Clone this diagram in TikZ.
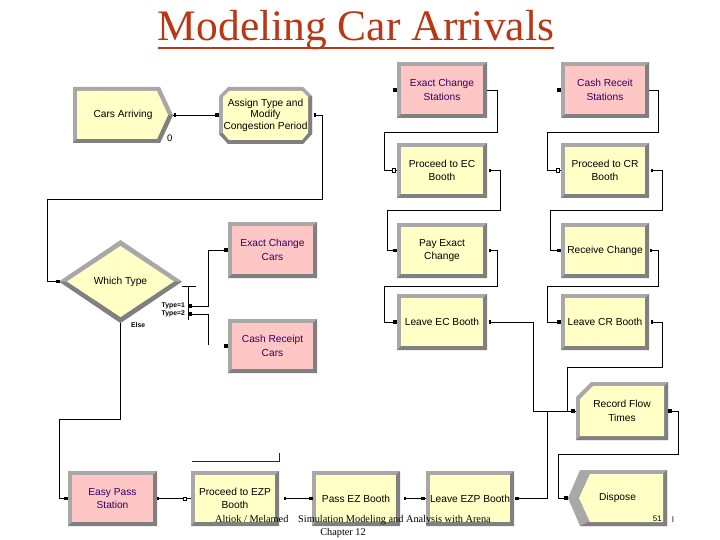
\documentclass[tikz,border=0pt]{standalone}
\usepackage{fontspec}
\setmainfont{Liberation Serif}
\newfontfamily\armfont{Liberation Sans}
\definecolor{ttl}{RGB}{185,55,20}
\definecolor{ylw}{RGB}{255,255,198}
\definecolor{pnk}{RGB}{255,198,198}
\definecolor{bvmid}{RGB}{168,168,168}
\definecolor{bvdark}{RGB}{128,128,128}
\definecolor{ptxt}{RGB}{50,0,100}
\definecolor{ezblue}{RGB}{30,30,120}
\begin{document}
\begin{tikzpicture}[x=1pt,y=-1pt,
  modbox/.style={rectangle, inner sep=0pt, align=center,
    font=\armfont\fontsize{10.2}{13.5}\selectfont, fill=#1,
    path picture={
      \fill[bvmid] (path picture bounding box.south west) rectangle (path picture bounding box.north east);
      \fill[bvdark] (path picture bounding box.south west) -- (path picture bounding box.south east)
        -- (path picture bounding box.north east) -- ([shift={(-4pt,-4pt)}]path picture bounding box.north east)
        -- ([shift={(-4pt,4pt)}]path picture bounding box.south east) -- ([shift={(4pt,4pt)}]path picture bounding box.south west) -- cycle;
      \fill[#1] ([shift={(4pt,4pt)}]path picture bounding box.south west) rectangle ([shift={(-4pt,-4pt)}]path picture bounding box.north east);
    }},
  ptext/.style={text=ptxt},
  shapetext/.style={rectangle, inner sep=0pt, align=center, font=\armfont\fontsize{10.2}{13.5}\selectfont},
  conn/.style={draw=black, line width=0.85pt},
  lbl/.style={inner sep=0pt, font=\armfont\bfseries\fontsize{6.8}{8}\selectfont},
  inmark/.pic={\fill[black] (-1.8pt,-1.8pt) rectangle (1.8pt,1.8pt);},
  openmark/.pic={\draw[black, fill=white, line width=0.6pt] (-1.7pt,-1.7pt) rectangle (1.7pt,1.7pt);},
  outmark/.pic={\fill[black] (-0.9pt,-1.6pt) rectangle (0.9pt,1.6pt);}
]
\useasboundingbox (0,0) rectangle (720,540);
\fill[white] (0,0) rectangle (720,540);

% title
\node[font=\fontsize{43.5}{44}\selectfont, text=ttl, inner sep=0pt, anchor=base] (title) at (356,41) {Modeling Car Arrivals};
\draw[ttl, line width=2pt] ([yshift=-7pt]title.base west) -- ([yshift=-7pt]title.base east);

% special shapes
\fill[bvmid] (73,87) -- (160,87) -- (173,115) -- (160,143) -- (73,143) -- cycle;
\fill[bvdark] (73,143) -- (160,143) -- (173,115) -- (168,115) -- (157,139) -- (77,139) -- cycle;
\fill[ylw] (77,91) -- (157,91) -- (168,115) -- (157,139) -- (77,139) -- cycle;
\node[shapetext, minimum width=100pt, minimum height=56pt] (arr) at (123,115) {Cars Arriving};

\fill[bvmid] (228,87) -- (303,87) -- (312,96) -- (312,134) -- (303,144) -- (228,144) -- (219,134) -- (219,96) -- cycle;
\fill[bvdark] (219,134) -- (228,144) -- (303,144) -- (312,134) -- (312,96) -- (308,97) -- (308,133) -- (302,140) -- (229,140) -- (223,133) -- cycle;
\fill[ylw] (229,91) -- (302,91) -- (308,97) -- (308,133) -- (302,140) -- (229,140) -- (223,133) -- (223,97) -- cycle;
\node[shapetext, font=\armfont\fontsize{10.2}{11.6}\selectfont, minimum width=93pt, minimum height=57pt] (asg) at (265.5,115) {Assign Type and\\Modify\\Congestion Period};

\fill[bvmid] (59,281.5) -- (120.5,240) -- (182,281.5) -- (120.5,323) -- cycle;
\fill[bvdark] (59,281.5) -- (120.5,323) -- (182,281.5) -- (174,281.5) -- (120.5,317) -- (67,281.5) -- cycle;
\fill[ylw] (67,281.5) -- (120.5,246) -- (174,281.5) -- (120.5,317) -- cycle;
\node[shapetext, minimum width=123pt, minimum height=83pt] (dec) at (120.5,281.5) {Which Type};

\fill[bvmid] (591,382) -- (668,382) -- (668,440) -- (576,440) -- (576,397) -- cycle;
\fill[bvdark] (576,440) -- (668,440) -- (668,382) -- (664,386) -- (664,436) -- (580,436) -- cycle;
\fill[ylw] (593,386) -- (664,386) -- (664,436) -- (580,436) -- (580,399) -- cycle;
\node[shapetext, minimum width=92pt, minimum height=58pt] (rft) at (622,411) {Record Flow\\Times};

\fill[bvmid] (580,470) -- (667,470) -- (667,526) -- (580,526) -- (568,498) -- cycle;
\fill[bvdark] (580,526) -- (667,526) -- (667,470) -- (663,474) -- (663,522) -- (588,522) -- cycle;
\fill[ylw] (590,474) -- (663,474) -- (663,522) -- (590,522) -- (579,498) -- cycle;
\node[shapetext, minimum width=99pt, minimum height=56pt] (dsp) at (617.5,498) {Dispose};

% rectangular modules
\node[modbox=pnk, ptext, minimum width=90pt, minimum height=56pt] (ecs) at (442,90) {Exact Change\\Stations};
\node[modbox=pnk, ptext, minimum width=88pt, minimum height=56pt] (crs) at (605,90) {Cash Receit\\Stations};
\node[modbox=ylw, minimum width=90pt, minimum height=55pt] (pec) at (442,170.5) {Proceed to EC\\Booth};
\node[modbox=ylw, minimum width=88pt, minimum height=55pt] (pcr) at (605,170.5) {Proceed to CR\\Booth};
\node[modbox=ylw, minimum width=90pt, minimum height=55pt] (pay) at (442,250.5) {Pay Exact\\Change};
\node[modbox=ylw, minimum width=88pt, minimum height=55pt] (rcv) at (605,250.5) {Receive Change};
\node[modbox=ylw, minimum width=90pt, minimum height=56pt] (lec) at (442,322) {Leave EC Booth};
\node[modbox=ylw, minimum width=88pt, minimum height=56pt] (lcr) at (605,322) {Leave CR Booth};
\node[modbox=pnk, ptext, minimum width=89pt, minimum height=56pt] (ecc) at (272.5,250) {Exact Change\\Cars};
\node[modbox=pnk, ptext, minimum width=89pt, minimum height=54pt] (crc) at (272.5,346) {Cash Receipt\\Cars};
\node[modbox=pnk, ptext, minimum width=89pt, minimum height=55pt] (ezs) at (112.5,498.5) {Easy Pass\\Station};
\node[modbox=ylw, minimum width=88pt, minimum height=55pt] (pez) at (235,498.5) {Proceed to EZP\\Booth};
\node[modbox=ylw, minimum width=88pt, minimum height=55pt] (pas) at (356,498.5) {Pass EZ Booth};
\node[modbox=ylw, minimum width=88pt, minimum height=55pt] (lez) at (470,498.5) {Leave EZP Booth};

% small labels
\node[inner sep=0pt, font=\armfont\fontsize{9.5}{10}\selectfont, anchor=west] (cnt0) at (167,138) {0};
\node[lbl, anchor=east] (t1) at (185,306) {Type=1};
\node[lbl, anchor=east] (t2) at (185,314) {Type=2};
\node[lbl, anchor=west] (els) at (131,325) {Else};
\node[inner sep=0pt, font=\armfont\fontsize{8}{9}\selectfont, anchor=east] (cnt51) at (662,519) {51};
\node[inner sep=0pt, font=\armfont\fontsize{8}{9}\selectfont] (cntl) at (673,520) {l};

% connectors
\draw[conn] (arr.east) -- (asg.west);
\draw[conn] ([xshift=3pt]asg.east) -- ++(7,0) |- (47,199) |- (dec.west);
\draw[conn] ([yshift=-5pt]dec.east) -- ++(14,0);
\draw[conn] (188,286.5) -- (188,320);
\draw[conn] (190,306) -| (208,250) -- (ecc.west);
\draw[conn] (190,314) -| (208,345);
\draw[conn] (dec.south) |- (59,419) |- (ezs.west);

\draw[conn] (ecs.east) -- ++(10,0) |- (384,132) |- (pec.west);
\draw[conn] ([xshift=3pt]pec.east) -- ++(10,0) |- (387,210) |- (pay.west);
\draw[conn] ([xshift=3pt]pay.east) -- ++(7,0) |- (384,286) |- (lec.west);
\draw[conn] ([xshift=3pt]lec.east) -| (533,411) -- (rft.west);

\draw[conn] (crs.east) -- ++(9,0) |- (547,132) |- (pcr.west);
\draw[conn] ([xshift=3pt]pcr.east) -- ++(10,0) |- (550,210) |- (rcv.west);
\draw[conn] ([xshift=2pt]rcv.east) -- ++(7,0) |- (547,286) |- (lcr.west);
\draw[conn] ([xshift=3pt]lcr.east) -- ++(10,0) |- (567,367) |- (rft.west);
\draw[conn] ([xshift=3pt]lez.east) -| (547,411) -- (rft.west);
\draw[conn] ([xshift=2pt]rft.east) -- ++(8,0) |- (558,454) |- (dsp.west);

\draw[conn] ([xshift=1pt]ezs.east) -- (pez.west);
\draw[conn] ([xshift=6pt]pez.east) -- (pas.west);
\draw[conn] ([xshift=5pt]pas.east) -- (lez.west);

\draw[ezblue, line width=0.9pt] ([shift={(1pt,9pt)}]pez.north west) -- ([yshift=9pt]pez.north east) -- ([yshift=18pt]pez.north east);

% markers
\pic at ([xshift=-2pt]asg.west) {inmark};
\pic at ([xshift=2pt]arr.east) {outmark};
\pic at ([xshift=3pt]asg.east) {outmark};
\pic at ([xshift=-1pt]dec.west) {inmark};
\pic at (190,306) {inmark};
\pic at (190,314) {inmark};
\pic at ([xshift=-2pt]ecc.west) {inmark};
\pic at ([xshift=-2pt]crc.west) {inmark};
\pic at ([xshift=-2pt]ecs.west) {inmark};
\pic at ([xshift=-2pt]crs.west) {inmark};
\pic at ([xshift=-3pt]pec.west) {openmark};
\pic at ([xshift=-3pt]pcr.west) {openmark};
\pic at ([xshift=-2pt]pay.west) {inmark};
\pic at ([xshift=-2pt]rcv.west) {inmark};
\pic at ([xshift=-2pt]lec.west) {inmark};
\pic at ([xshift=-2pt]lcr.west) {inmark};
\pic at ([xshift=3pt]pec.east) {outmark};
\pic at ([xshift=3pt]pcr.east) {outmark};
\pic at ([xshift=3pt]pay.east) {outmark};
\pic at ([xshift=2pt]rcv.east) {outmark};
\pic at ([xshift=3pt]lec.east) {outmark};
\pic at ([xshift=3pt]lcr.east) {outmark};
\pic at ([xshift=-3pt]rft.west) {inmark};
\pic at ([xshift=2pt]rft.east) {inmark};
\pic at ([xshift=-2pt]dsp.west) {inmark};
\pic at ([xshift=-2pt]ezs.west) {inmark};
\pic at ([xshift=1pt]ezs.east) {outmark};
\pic at ([xshift=-6pt]pez.west) {openmark};
\pic at ([xshift=6pt]pez.east) {outmark};
\pic at ([xshift=-1pt]pas.west) {inmark};
\pic at ([xshift=5pt]pas.east) {outmark};
\pic at ([xshift=-3pt]lez.west) {inmark};
\pic at ([xshift=3pt]lez.east) {inmark};

% footer
\node[inner sep=0pt, font=\fontsize{10.3}{12}\selectfont, anchor=base west] (ft1) at (215,522.5) {Altiok / Melamed};
\node[inner sep=0pt, font=\fontsize{10.3}{12}\selectfont, anchor=base west] (ft2) at (298,522.5) {Simulation Modeling and Analysis with Arena};
\node[inner sep=0pt, font=\fontsize{10.3}{12}\selectfont, anchor=base] (ft3) at (343,535) {Chapter 12};
\end{tikzpicture}
\end{document}
